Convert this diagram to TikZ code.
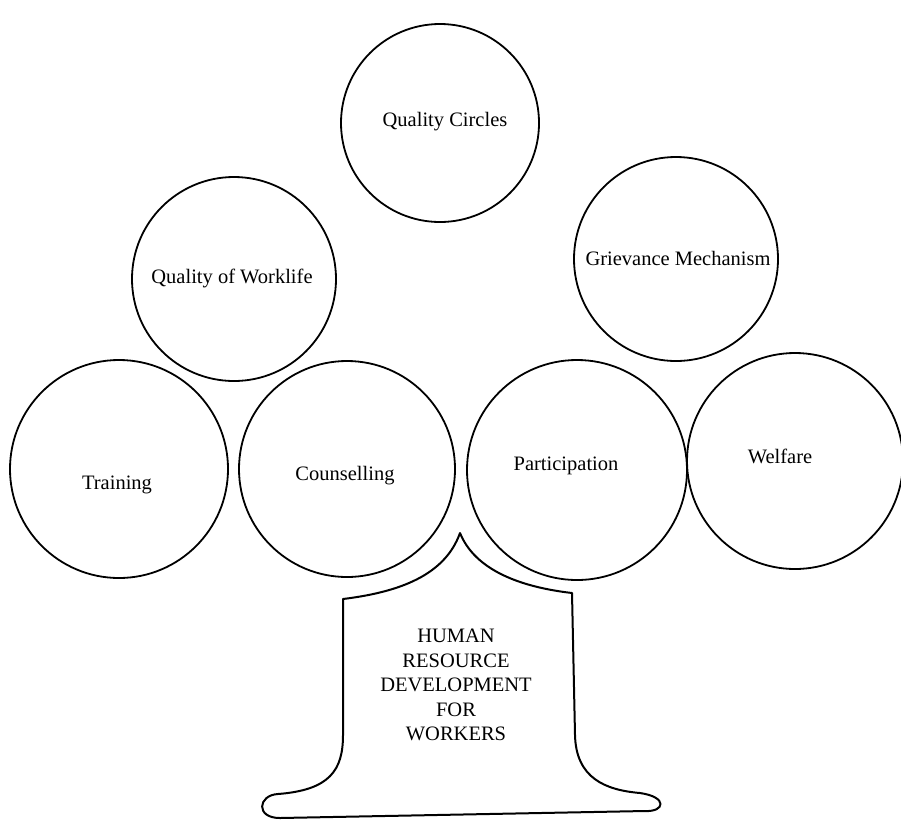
\documentclass[tikz,border=0pt]{standalone}
\usepackage{fontspec}
\setmainfont{Liberation Serif}
\begin{document}
\begin{tikzpicture}[x=1pt,y=-1pt,
  ring/.style={circle,draw,line width=1.8pt,inner sep=0pt},
  lbl/.style={font=\fontsize{20.5}{23.5}\selectfont,inner sep=0pt},
  trunk/.style={draw,line width=2pt,line join=round}]
\useasboundingbox (0,0) rectangle (901,820);
% circles
\node[ring,minimum size=198pt] (qc) at (440,123) {};
\node[ring,minimum size=204pt] (qw) at (234,279) {};
\node[ring,minimum size=204pt] (gm) at (676,259) {};
\node[ring,minimum size=218pt] (tr) at (119,469) {};
\node[ring,minimum size=216pt] (co) at (347,469) {};
\node[ring,minimum size=220pt] (pa) at (577,470) {};
\node[ring,minimum size=216pt] (we) at (795,461) {};
% labels
\node[lbl] (tqc) at (445,122) {Quality Circles};
\node[lbl] (tqw) at (232,278) {Quality of Worklife};
\node[lbl] (tgm) at (678,258) {Grievance Mechanism};
\node[lbl] (ttr) at (117,485) {Training};
\node[lbl] (tco) at (345,476) {Counselling};
\node[lbl] (tpa) at (566,466) {Participation};
\node[lbl] (twe) at (780,456) {Welfare};
% trunk
\path[trunk] (343,599)
  .. controls (400,592) and (445,575) .. (460,533)
  .. controls (475,570) and (520,587) .. (572,593)
  -- (575,735)
  .. controls (576,778) and (605,790) .. (640,793)
  .. controls (668,797) and (665,812) .. (645,811)
  -- (280,818)
  .. controls (255,818) and (258,795) .. (278,794)
  .. controls (330,790) and (343,770) .. (343,735)
  -- cycle;
\node[lbl,align=center,font=\fontsize{20.5}{24.5}\selectfont] (hrd) at (456,685)
  {HUMAN\\RESOURCE\\DEVELOPMENT\\FOR\\WORKERS};
\end{tikzpicture}
\end{document}
